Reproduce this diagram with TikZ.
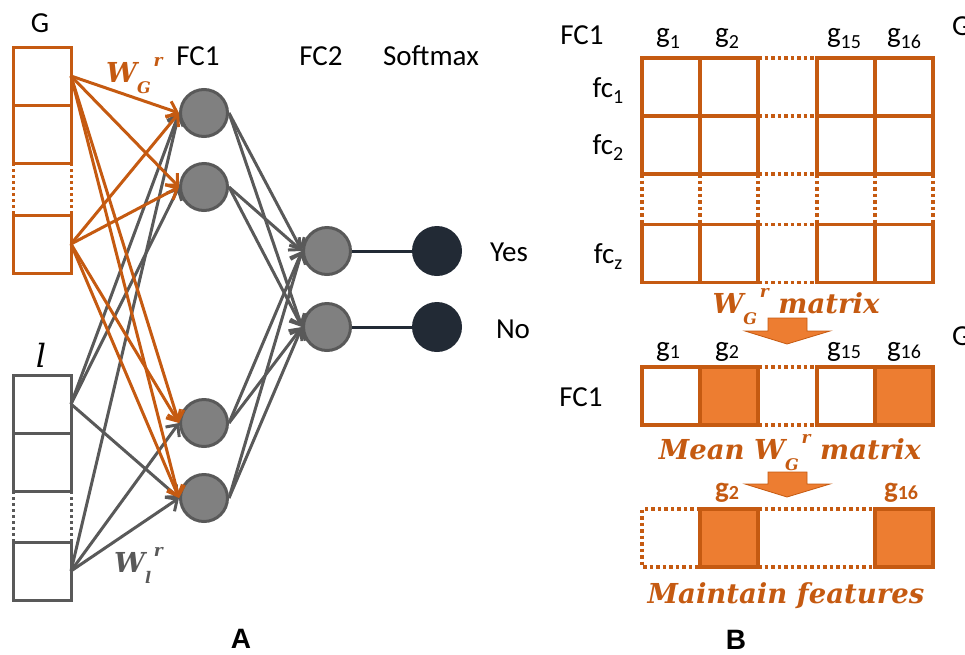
\documentclass[tikz,border=0pt]{standalone}
\usepackage{fontspec}
\setmainfont{Carlito}
\newfontfamily\lblserif{DejaVu Serif}
\newfontfamily\bigsans{Liberation Sans}
\usetikzlibrary{arrows.meta}
\definecolor{ored}{HTML}{C55A11}
\definecolor{ofill}{HTML}{ED7D31}
\definecolor{dgrey}{HTML}{595959}
\definecolor{ngrey}{HTML}{808080}
\definecolor{dnavy}{HTML}{222A35}
\newcommand{\subx}[1]{\raisebox{-0.22em}{\fontsize{20}{20}\selectfont #1}}
\newcommand{\subm}[1]{\raisebox{-0.08em}{\fontsize{20}{20}\selectfont #1}}
\newcommand{\Wsr}[1]{W\raisebox{-0.4em}{\fontsize{16}{16}\selectfont #1}\raisebox{0.55em}{\fontsize{17}{17}\selectfont\,r}}
\begin{document}
\begin{tikzpicture}[x=1pt,y=-1pt,
  txt/.style={font=\fontsize{29}{34}\selectfont, inner sep=0, anchor=base},
  neuron/.style={circle, minimum size=47pt, inner sep=0, fill=ngrey, draw=dgrey, line width=3pt},
  outn/.style={circle, minimum size=50pt, inner sep=0, fill=dnavy},
  obox/.style={draw=ored, line width=3pt, minimum width=58pt, minimum height=58pt, inner sep=0, outer sep=0},
  gbox/.style={draw=dgrey, line width=3pt, minimum width=58pt, minimum height=58pt, inner sep=0, outer sep=0},
  oarr/.style={draw=ored, line width=3pt, -{Straight Barb[length=9pt,width=17pt]}},
  garr/.style={draw=dgrey, line width=3pt, -{Straight Barb[length=9pt,width=17pt]}},
  dotl/.style={line width=3pt, dash pattern=on 3pt off 3pt},
  mcell/.style={draw=ored, line width=3.5pt, minimum width=58pt, minimum height=58pt, inner sep=0, outer sep=0},
  fcell/.style={mcell, fill=ofill},
  mdot/.style={draw=ored, line width=3.5pt, dash pattern=on 3.5pt off 3pt},
  lab/.style={font=\lblserif\bfseries\itshape\fontsize{27.5}{32}\selectfont, inner sep=0, anchor=base},
  barrow/.style={fill=ofill, draw=ored, line width=0.8pt},
  panel/.style={font=\bigsans\bfseries\fontsize{28}{32}\selectfont, inner sep=0, anchor=base}
]
\useasboundingbox (0,0) rectangle (965,654);

% ---------- Panel A ----------
\node[txt] (Glab) at (40,32) {G};
\node[obox] (g1) at (42,76) {};
\node[obox] (g2) at (42,134) {};
\node[obox] (g4) at (42,244) {};
\draw[ored, dotl] (g2.south west) -- (g4.north west);
\draw[ored, dotl] (g2.south east) -- (g4.north east);

\node[txt, font=\lblserif\itshape\fontsize{32}{36}\selectfont] (llab) at (41,367) {l};
\node[gbox] (l1) at (42,404) {};
\node[gbox] (l2) at (42,462) {};
\node[gbox] (l4) at (42,571) {};
\draw[dgrey, dotl] (l2.south west) -- (l4.north west);
\draw[dgrey, dotl] (l2.south east) -- (l4.north east);

\node[txt] (fc1lab) at (198,65) {FC1};
\node[txt] (fc2lab) at (321,65) {FC2};
\node[txt] (smlab) at (431,65) {Softmax};

\node[neuron] (f1) at (204,113) {};
\node[neuron] (f2) at (204,187) {};
\node[neuron] (f3) at (204,423) {};
\node[neuron] (f4) at (204,498) {};
\node[neuron] (h1) at (327,251) {};
\node[neuron] (h2) at (327,327) {};
\node[outn] (o1) at (437,251) {};
\node[outn] (o2) at (437,327) {};
\node[txt] (yes) at (509,261) {Yes};
\node[txt] (no) at (513,338) {No};

% grey input arrows
\draw[garr] (l1.east) -- (f1.west);
\draw[garr] (l1.east) -- (f2.west);
\draw[garr] (l1.east) -- (f4.west);
\draw[garr] (l4.east) -- (f1.west);
\draw[garr] (l4.east) -- (f3.west);
\draw[garr] (l4.east) -- (f4.west);
% orange input arrows
\foreach \t in {f1,f2,f3,f4}{
  \draw[oarr] (g1.east) -- (\t.west);
  \draw[oarr] (g4.east) -- (\t.west);
}
% FC1 -> FC2
\foreach \s in {f1,f2,f3,f4}{
  \foreach \t in {h1,h2}{
    \draw[garr] (\s.east) -- (\t.west);
  }
}
\draw[dnavy, line width=3pt] (h1.east) -- (o1.west);
\draw[dnavy, line width=3pt] (h2.east) -- (o2.west);

\node[lab, anchor=base west, text=ored] (wg) at (106,82) {\Wsr{G}};
\node[lab, anchor=base west, text=dgrey] (wl) at (114,572) {\Wsr{l}};

\node[panel] (A) at (241,648) {A};

% ---------- Panel B ----------
\node[txt] (fcB1) at (582,44) {FC1};
\node[txt] (hg1) at (668,42) {g\subx{1}};
\node[txt] (hg2) at (727,42) {g\subx{2}};
\node[txt] (hg15) at (844,42) {g\subx{15}};
\node[txt] (hg16) at (904,42) {g\subx{16}};
\node[txt] (rf1) at (608,97) {fc\subx{1}};
\node[txt] (rf2) at (608,154) {fc\subx{2}};
\node[txt] (rfz) at (608,263) {fc\subx{z}};
\node[txt, anchor=base west] (Gcut1) at (952,35) {G};

\foreach \r/\y in {1/87,2/145,4/253.5}{
  \foreach \c/\x in {1/671,2/729,4/846,5/904}{
    \node[mcell] (m\r\c) at (\x,\y) {};
  }
}
\foreach \y in {58,116,174,224.5,282.5}{
  \draw[mdot] (758,\y) -- (817,\y);
}
\foreach \x in {642,700,758,817,875,933}{
  \draw[mdot] (\x,174) -- (\x,224.5);
}
\node[lab, text=ored] (wm) at (796,313) {\Wsr{G} matrix};
\draw[barrow] (768,318) -- (807,318) -- (807,331) -- (830,331) -- (787,344) -- (745,331) -- (768,331) -- cycle;

\node[txt] (mg1) at (668,356) {g\subm{1}};
\node[txt] (mg2) at (727,356) {g\subm{2}};
\node[txt] (mg15) at (844,356) {g\subm{15}};
\node[txt] (mg16) at (904,356) {g\subm{16}};
\node[txt] (fcB2) at (581,406) {FC1};
\node[txt, anchor=base west] (Gcut2) at (952,345) {G};
\node[mcell] (n1) at (671,396) {};
\node[fcell] (n2) at (729,396) {};
\node[mcell] (n4) at (846,396) {};
\node[fcell] (n5) at (904,396) {};
\draw[mdot] (n2.north east) -- (n4.north west);
\draw[mdot] (n2.south east) -- (n4.south west);
\node[lab, text=ored] (mwm) at (790,459) {Mean \Wsr{G} matrix};
\draw[barrow] (768,472) -- (807,472) -- (807,484) -- (830,484) -- (787,497) -- (745,484) -- (768,484) -- cycle;

\node[txt, font=\bfseries\fontsize{29}{34}\selectfont, text=ored] (bg2) at (727,497) {g\subm{2}};
\node[txt, font=\bfseries\fontsize{29}{34}\selectfont, text=ored] (bg16) at (901,497) {g\subm{16}};
\node[fcell] (k2) at (729,538) {};
\node[fcell] (k5) at (904,538) {};
\draw[mdot] (k2.north west) -- (642,509) -- (642,567) -- (k2.south west);
\draw[mdot] (k2.north east) -- (k5.north west);
\draw[mdot] (k2.south east) -- (k5.south west);
\node[lab, text=ored] (mf) at (786,603) {Maintain features};

\node[panel] (B) at (736,649) {B};
\end{tikzpicture}
\end{document}
